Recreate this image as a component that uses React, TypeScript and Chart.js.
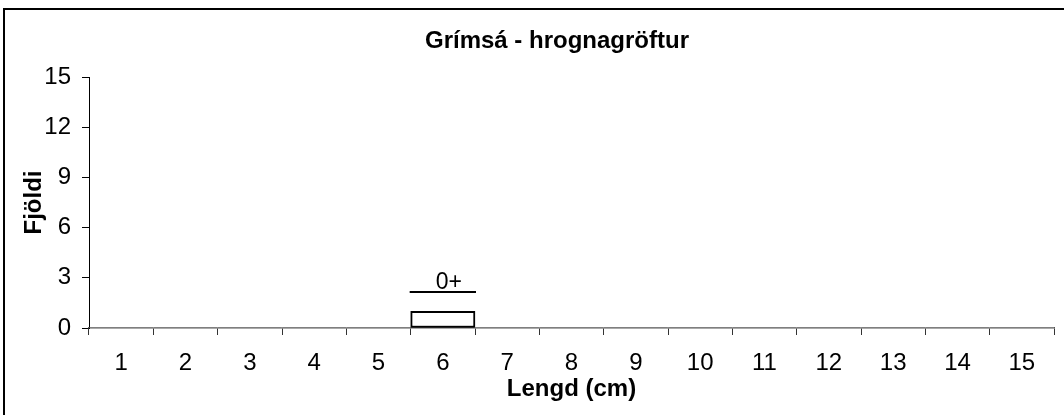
import React, { useEffect, useRef } from 'react';
import { Chart, registerables } from 'chart.js';

Chart.register(...registerables);

// ---- data ----
const chartTitle = 'Grímsá - hrognagröftur';
const xTitle = 'Lengd (cm)';
const yTitle = 'Fjöldi';
const lengthLabels = ['1', '2', '3', '4', '5', '6', '7', '8', '9', '10', '11', '12', '13', '14', '15'];
const counts = [0, 0, 0, 0, 0, 1, 0, 0, 0, 0, 0, 0, 0, 0, 0];
const yMin = 0;
const yMax = 15;
const yStep = 3;
// age-group markers (label, first/last length class, height on the count axis)
const ageGroupLabels = ['0+'];
const ageGroupFrom = ['6'];
const ageGroupTo = ['6'];
const ageGroupLevel = [2.15];

const FONT = '"Liberation Sans", Arial, Helvetica, sans-serif';

const ageGroupPlugin = {
  id: 'ageGroups',
  afterDatasetsDraw(chart: any) {
    const { ctx } = chart;
    const xs = chart.scales.x;
    const ys = chart.scales.y;
    const half = xs.width / lengthLabels.length / 2;
    ctx.save();
    ageGroupLabels.forEach((lab, i) => {
      const x0 = xs.getPixelForValue(lengthLabels.indexOf(ageGroupFrom[i])) - half;
      const x1 = xs.getPixelForValue(lengthLabels.indexOf(ageGroupTo[i])) + half;
      const yy = ys.getPixelForValue(ageGroupLevel[i]);
      ctx.strokeStyle = '#000';
      ctx.lineWidth = 2;
      ctx.beginPath();
      ctx.moveTo(x0 - 1, yy);
      ctx.lineTo(x1 + 1, yy);
      ctx.stroke();
      ctx.fillStyle = '#000';
      ctx.font = `23px ${FONT}`;
      ctx.textAlign = 'center';
      ctx.textBaseline = 'alphabetic';
      ctx.fillText(lab, (x0 + x1) / 2 + 6, yy - 3);
    });
    ctx.restore();
  },
};

export default function App() {
  const ref = useRef<HTMLCanvasElement | null>(null);

  useEffect(() => {
    if (!ref.current) return;
    Chart.defaults.font.family = FONT;
    Chart.defaults.color = '#000';
    const chart = new Chart(ref.current, {
      type: 'bar',
      data: {
        labels: lengthLabels,
        datasets: [
          {
            data: counts,
            backgroundColor: '#ffffff',
            borderColor: '#000000',
            borderWidth: (c: any) => (c.raw > 0 ? 2 : 0),
            borderSkipped: false,
            barPercentage: 1,
            categoryPercentage: 1,
          },
        ],
      },
      options: {
        responsive: false,
        animation: false,
        devicePixelRatio: 1,
        layout: { padding: { left: 10, right: 0, top: 0, bottom: 0 } },
        plugins: {
          legend: { display: false },
          tooltip: { enabled: false },
          title: {
            display: true,
            text: chartTitle,
            color: '#000',
            font: { size: 24, weight: 'bold', family: FONT },
            padding: { top: 26.6, bottom: 21.6 },
          },
        },
        scales: {
          x: {
            offset: true,
            grid: {
              offset: true,
              drawOnChartArea: false,
              drawTicks: true,
              tickLength: 7,
              color: '#333',
            },
            border: { display: true, color: '#555', width: 1.5 },
            ticks: { color: '#000', font: { size: 24, family: FONT }, padding: 14, maxRotation: 0, autoSkip: false },
            title: {
              display: true,
              text: xTitle,
              color: '#000',
              font: { size: 24, weight: 'bold', family: FONT },
              padding: { top: 0, bottom: 11.6 },
            },
            afterFit(scale: any) {
              scale.height = 87;
            },
          },
          y: {
            min: yMin,
            max: yMax,
            grid: {
              drawOnChartArea: false,
              drawTicks: true,
              tickLength: 7,
              color: '#000',
            },
            border: { display: true, color: '#000', width: 1 },
            ticks: { stepSize: yStep, color: '#000', font: { size: 24, family: FONT }, padding: 11 },
            title: {
              display: true,
              text: yTitle,
              color: '#000',
              font: { size: 24, weight: 'bold', family: FONT },
              padding: { top: 9.6, bottom: 0 },
            },
            afterFit(scale: any) {
              scale.width = 79;
            },
          },
          // empty right-hand spacer so the title centres like the original
          spacer: {
            type: 'linear',
            position: 'right',
            display: true,
            grid: { display: false, drawTicks: false },
            border: { display: false },
            ticks: { display: false },
            afterFit(scale: any) {
              scale.width = 50;
            },
          },
        },
      },
      plugins: [ageGroupPlugin],
    });
    return () => chart.destroy();
  }, []);

  return (
    <div style={{ position: 'absolute', left: 0, top: 0, width: 1064, height: 415, overflow: 'hidden', background: '#fff' }}>
      <canvas ref={ref} width={1104} height={415} style={{ position: 'absolute', left: 0, top: 0, width: 1104, height: 415 }} />
      <div
        style={{
          position: 'absolute',
          left: 3,
          top: 8,
          width: 1200,
          height: 600,
          borderLeft: '2px solid #000',
          borderTop: '2px solid #000',
          pointerEvents: 'none',
        }}
      />
    </div>
  );
}
